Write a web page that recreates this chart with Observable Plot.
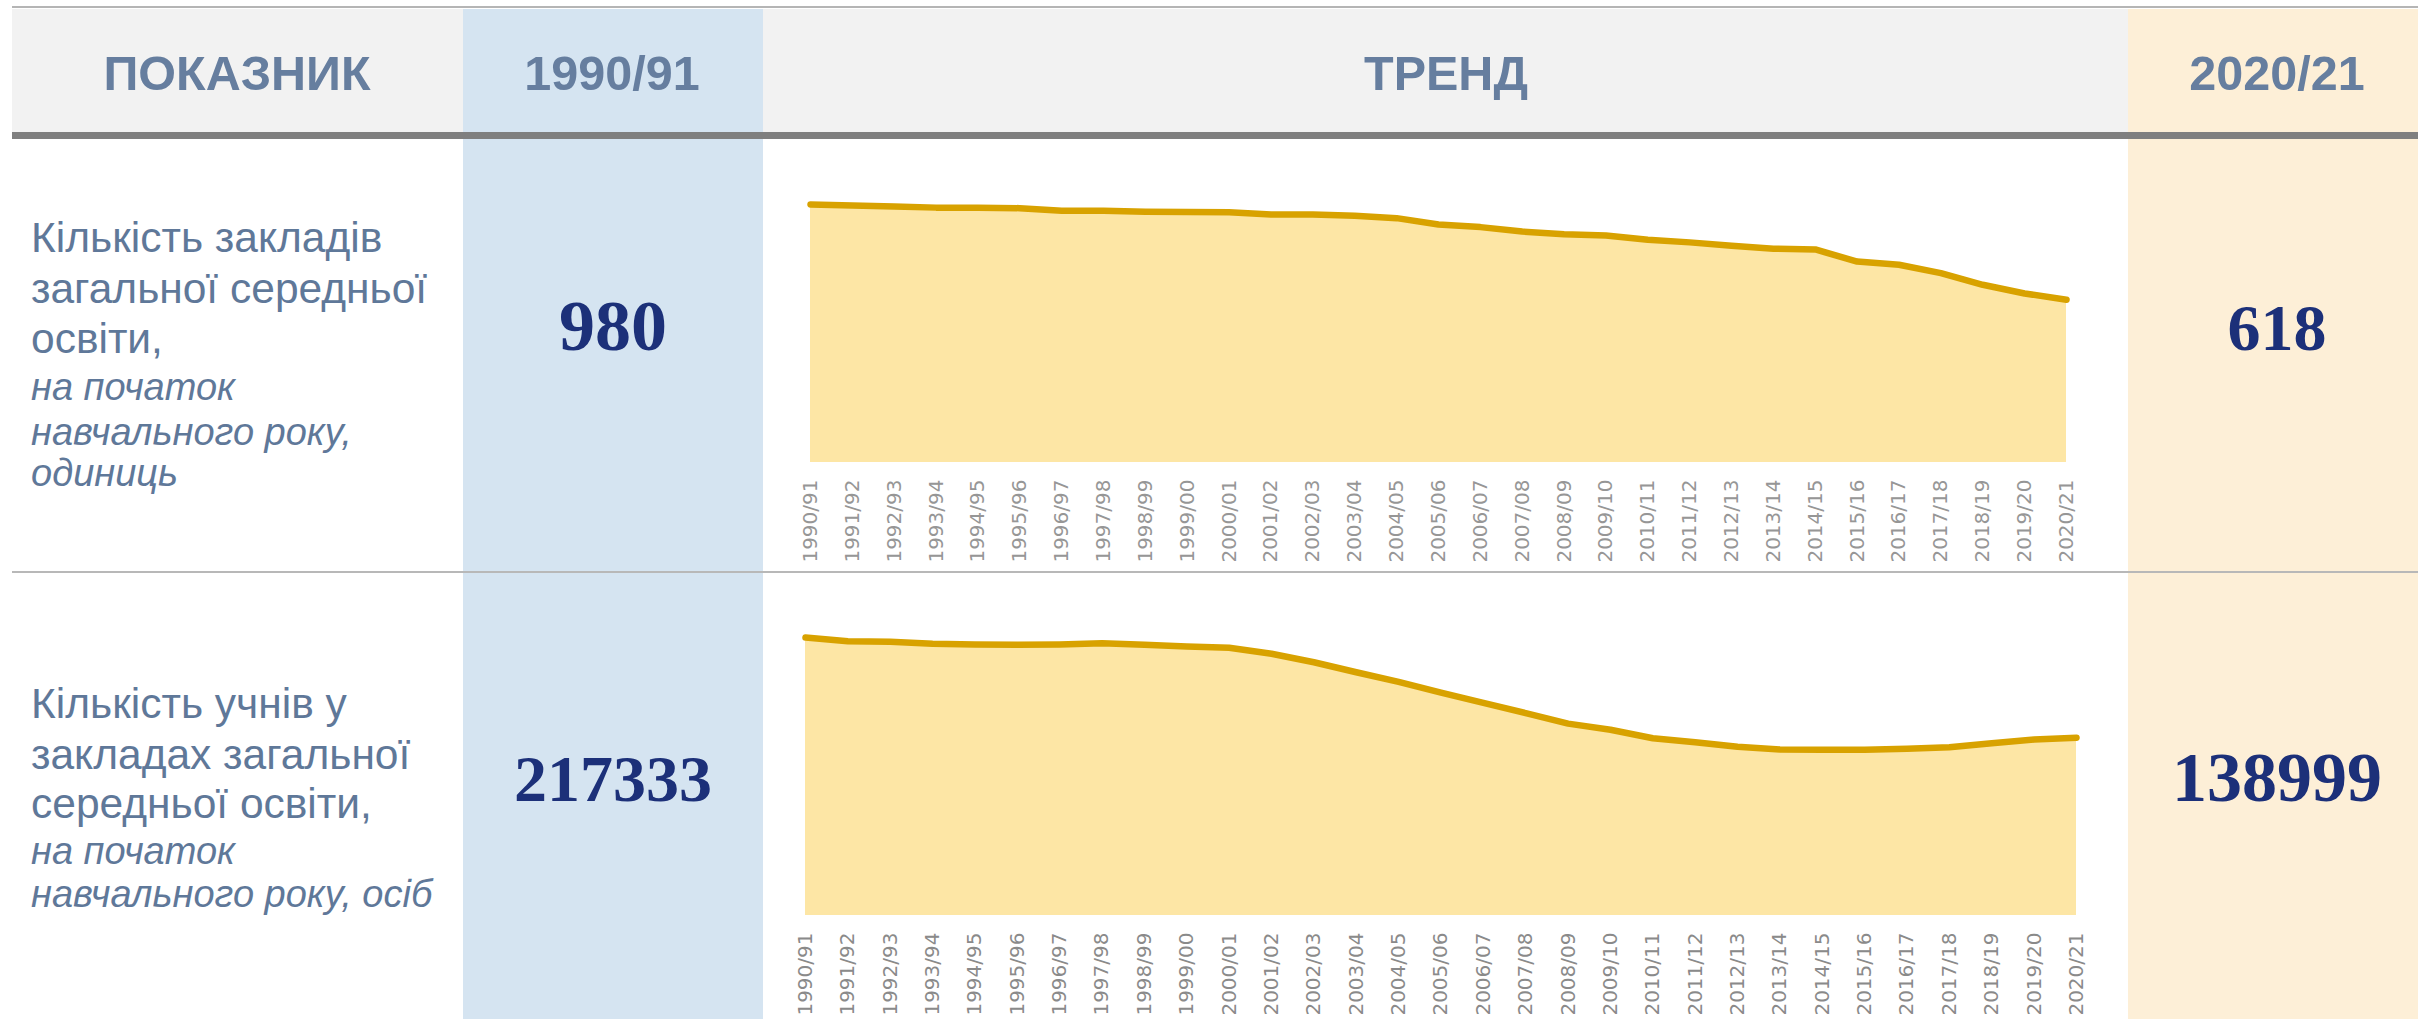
<!DOCTYPE html>
<html><head><meta charset="utf-8">
<script src="https://cdn.jsdelivr.net/npm/d3@7"></script>
<script src="https://cdn.jsdelivr.net/npm/@observablehq/plot@0.6"></script>
<style>
html,body{margin:0;padding:0;background:#fff;}
#page{position:relative;width:2418px;height:1019px;overflow:hidden;background:#fff;}
.abs{position:absolute;}
</style></head><body><div id="page"></div>
<script>
// ---- data ----
const years = ["1990/91","1991/92","1992/93","1993/94","1994/95","1995/96","1996/97","1997/98","1998/99","1999/00",
  "2000/01","2001/02","2002/03","2003/04","2004/05","2005/06","2006/07","2007/08","2008/09","2009/10",
  "2010/11","2011/12","2012/13","2013/14","2014/15","2015/16","2016/17","2017/18","2018/19","2019/20","2020/21"];
const schools = [980,976,972,968,968,966,956,956,952,951,950,942,942,937,928,904,894,877,867,862,846,836,823,812,809,763,751,719,675,642,618];
const students = [217333,214400,214000,212400,211900,211600,211900,212900,211600,210300,209300,204600,198000,190200,182700,174300,166300,158200,150000,145200,138600,135500,131900,129800,129500,129500,130300,131600,134700,137600,138999];
const headers = ["ПОКАЗНИК","1990/91","ТРЕНД","2020/21"];
const row1Label = ["Кількість закладів","загальної середньої","освіти,"];
const row1Note = ["на початок","навчального року,","одиниць"];
const row2Label = ["Кількість учнів у","закладах загальної","середньої освіти,"];
const row2Note = ["на початок","навчального року, осіб"];
const row1Values = ["980","618"];
const row2Values = ["217333","138999"];

const sansFam = "'Liberation Sans', Arial, sans-serif";

const page = document.getElementById("page");
function box(l,t,w,h,bg){const d=document.createElement("div");d.className="abs";
  Object.assign(d.style,{left:l+"px",top:t+"px",width:w+"px",height:h+"px",background:bg});page.appendChild(d);return d;}

// ---- backgrounds ----
box(12,9,2406,124,"#f2f2f2");          // header band
box(463,9,300,1010,"#d5e4f1");         // 1990/91 column
box(2128,9,290,1010,"#fdefd7");        // 2020/21 column
box(12,6,2406,2,"#b5b5b5");            // top rule
box(12,132,2406,7,"#7f7f7f");          // header rule
box(12,571,2406,2,"#b8b8b8");          // row separator

// ---- trend charts ----
function trend(values, domainMax, top, height, mL, mR, mT, mB, tickFill){
  const data = years.map((y,i)=>({year:y, value:values[i]}));
  const p = Plot.plot({
    width:1365, height, marginLeft:mL, marginRight:mR, marginTop:mT, marginBottom:mB,
    x:{type:"point", domain:years, padding:0, round:false, label:null},
    y:{domain:[0,domainMax], axis:null},
    style:{fontFamily:"'DejaVu Sans', sans-serif", fontSize:"20px", background:"transparent", overflow:"visible"},
    marks:[
      Plot.areaY(data,{x:"year", y:"value", fill:"#fde6a5"}),
      Plot.lineY(data,{x:"year", y:"value", stroke:"#d8a200", strokeWidth:6.5, strokeLinecap:"round", strokeLinejoin:"round"}),
      Plot.axisX({tickRotate:-90, tickSize:0, tickPadding:17, fill:tickFill, fontSize:20, label:null})
    ]
  });
  p.style.position="absolute"; p.style.left="763px"; p.style.top=top+"px";
  page.appendChild(p);
}
trend(schools, 1000, 140, 432, 47, 62, 58.7, 110, "#969696");
trend(students, 220000, 573, 446, 42, 52, 60.6, 104, "#8a8a8a");

// ---- text overlay ----
const svg = d3.create("svg").attr("width",2418).attr("height",1019)
  .style("position","absolute").style("left","0px").style("top","0px").style("pointer-events","none");
page.appendChild(svg.node());

function sansText(str,x,y,size,opts={}){
  svg.append("text").text(str).attr("x",x).attr("y",y).attr("font-family",sansFam).attr("font-size",size)
   .attr("font-weight",opts.bold?"bold":"normal").attr("font-style",opts.italic?"italic":"normal")
   .attr("text-anchor",opts.anchor||"start").attr("fill",opts.fill||"#5f7899");
}
const hdrX=[237,612,1446,2277];
headers.forEach((h,i)=>sansText(h,hdrX[i],90,48.5,{bold:true,anchor:"middle",fill:"#667e9f"}));

const r1b=[252,303,353], r1n=[400,445,486];
row1Label.forEach((t,i)=>sansText(t,31,r1b[i],42.5));
row1Note.forEach((t,i)=>sansText(t,31,r1n[i],38,{italic:true}));
const r2b=[718,769,818], r2n=[864,907];
row2Label.forEach((t,i)=>sansText(t,31,r2b[i],42.5));
row2Note.forEach((t,i)=>sansText(t,31,r2n[i],38,{italic:true}));

function bigNum(str,x,y,size){
  svg.append("text").text(str).attr("x",x).attr("y",y).attr("text-anchor","middle")
   .attr("font-family","'Liberation Serif', 'DejaVu Serif', serif").attr("font-weight","bold")
   .attr("font-size",size).attr("fill","#1c3079");
}
bigNum(row1Values[0],613,350,72);
bigNum(row1Values[1],2277,350,66);
bigNum(row2Values[0],613,801,66);
bigNum(row2Values[1],2277,801,70);
</script>
</body></html>
